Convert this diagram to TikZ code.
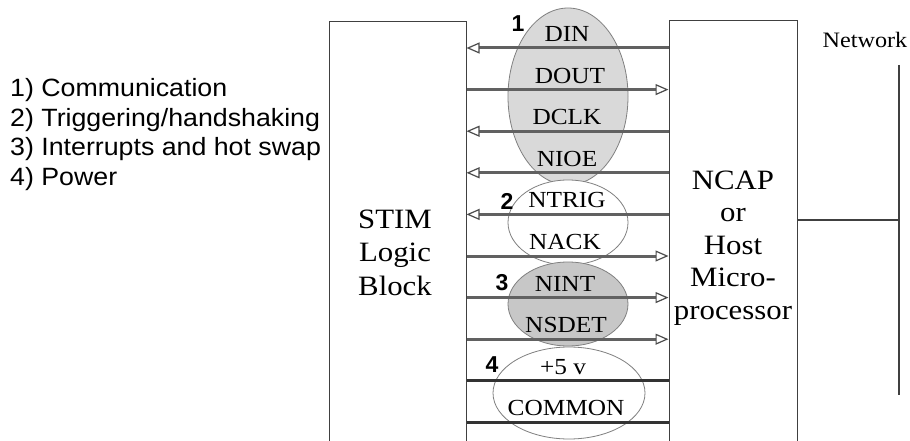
\documentclass[tikz,border=0pt]{standalone}
\usepackage{fontspec}
\setmainfont{Liberation Serif}
\newfontfamily\serifw{Liberation Serif}[FakeStretch=1.1]
\newfontfamily\sansw{Liberation Sans}[FakeStretch=1.07]
\newfontfamily\sansb{Liberation Sans Bold}
\usetikzlibrary{arrows.meta,shapes.geometric}
\tikzset{
  blk/.style={draw=black!75, line width=1pt, inner sep=0pt, rectangle},
  grp/.style={ellipse, draw=black!50, line width=0.8pt, inner sep=0pt},
  sig/.style={draw=black!62, line width=3pt,
     -{Triangle[open,length=13pt,width=11pt,line width=1.2pt,color=black!70]}},
  pwr/.style={draw=black!80, line width=2.8pt},
  signame/.style={anchor=base, inner sep=0pt, font=\serifw\fontsize{23}{26}\selectfont},
  bigtxt/.style={anchor=base, inner sep=0pt, font=\serifw\fontsize{28}{32}\selectfont},
  num/.style={anchor=base, inner sep=0pt, font=\sansb\fontsize{23}{26}\selectfont},
  lst/.style={anchor=base west, inner sep=0pt, font=\sansw\fontsize{25}{29}\selectfont},
  net/.style={draw=black!75, line width=1.1pt}
}
\begin{document}
\begin{tikzpicture}[x=1pt,y=-1pt]
\useasboundingbox (0,0) rectangle (910,441);
\fill[white] (0,0) rectangle (910,441);
\clip (0,0) rectangle (910,441);

% group ellipses
\node[grp, fill=black!15, minimum width=120, minimum height=177] (g1) at (568,96.5) {};
\node[grp, fill=white, minimum width=120, minimum height=85] (g2) at (568,222.5) {};
\node[grp, fill=black!22, minimum width=120, minimum height=84] (g3) at (568,304) {};
\node[grp, fill=white, minimum width=152, minimum height=92] (g4) at (569,393) {};

% boxes
\node[blk, minimum width=137, minimum height=448] (stim) at (397.5,246) {};
\node[blk, minimum width=128, minimum height=449] (ncap) at (733,245.5) {};

% signal lines
\draw[sig] (ncap.west |- 0,48)    -- (stim.east |- 0,48);
\draw[sig] (stim.east |- 0,89.6)  -- (ncap.west |- 0,89.6);
\draw[sig] (ncap.west |- 0,131.2) -- (stim.east |- 0,131.2);
\draw[sig] (ncap.west |- 0,172.8) -- (stim.east |- 0,172.8);
\draw[sig] (ncap.west |- 0,214.4) -- (stim.east |- 0,214.4);
\draw[sig] (stim.east |- 0,256)   -- (ncap.west |- 0,256);
\draw[sig] (stim.east |- 0,297.6) -- (ncap.west |- 0,297.6);
\draw[sig] (stim.east |- 0,339.2) -- (ncap.west |- 0,339.2);
\draw[pwr] (stim.east |- 0,380.8) -- (ncap.west |- 0,380.8);
\draw[pwr] (stim.east |- 0,422.4) -- (ncap.west |- 0,422.4);

% signal names
\node[signame] (tdin)   at (567,41.5)  {DIN};
\node[signame] (tdout)  at (570,83.1)  {DOUT};
\node[signame] (tdclk)  at (567,124.7) {DCLK};
\node[signame] (tnioe)  at (567,166.3) {NIOE};
\node[signame] (tntrig) at (567,207.9) {NTRIG};
\node[signame] (tnack)  at (565,249.5) {NACK};
\node[signame] (tnint)  at (565,291.1) {NINT};
\node[signame] (tnsdet) at (566,332.7) {NSDET};
\node[signame] (tpwr)   at (563,374.3) {+5 v};
\node[signame] (tcom)   at (566,415.9) {COMMON};

% group numbers
\node[num] (n1) at (518,32)  {1};
\node[num] (n2) at (507,209) {2};
\node[num] (n3) at (502,290) {3};
\node[num] (n4) at (492,372) {4};

% STIM text
\node[bigtxt] (s1) at (395,228) {STIM};
\node[bigtxt] (s2) at (395,261.5) {Logic};
\node[bigtxt] (s3) at (395,295) {Block};

% NCAP text
\node[bigtxt] (c1) at (733,189) {NCAP};
\node[bigtxt] (c2) at (733,221.5) {or};
\node[bigtxt] (c3) at (733,254) {Host};
\node[bigtxt] (c4) at (733,286.5) {Micro-};
\node[bigtxt] (c5) at (733,319) {processor};

% network
\node[anchor=base, inner sep=0pt, font=\serifw\fontsize{22}{26}\selectfont] (nw) at (865,48) {Network};
\coordinate (bt) at (899,65);
\coordinate (bb) at (899,395);
\draw[net] (bt) -- (bb);
\draw[net] (ncap.east |- 0,220) -- (bt |- 0,220);

% list
\node[lst] (l1) at (10,97)  {1) Communication};
\node[lst] (l2) at (10,126.5) {2) Triggering/handshaking};
\node[lst] (l3) at (10,156) {3) Interrupts and hot swap};
\node[lst] (l4) at (10,185.5) {4) Power};
\end{tikzpicture}
\end{document}
